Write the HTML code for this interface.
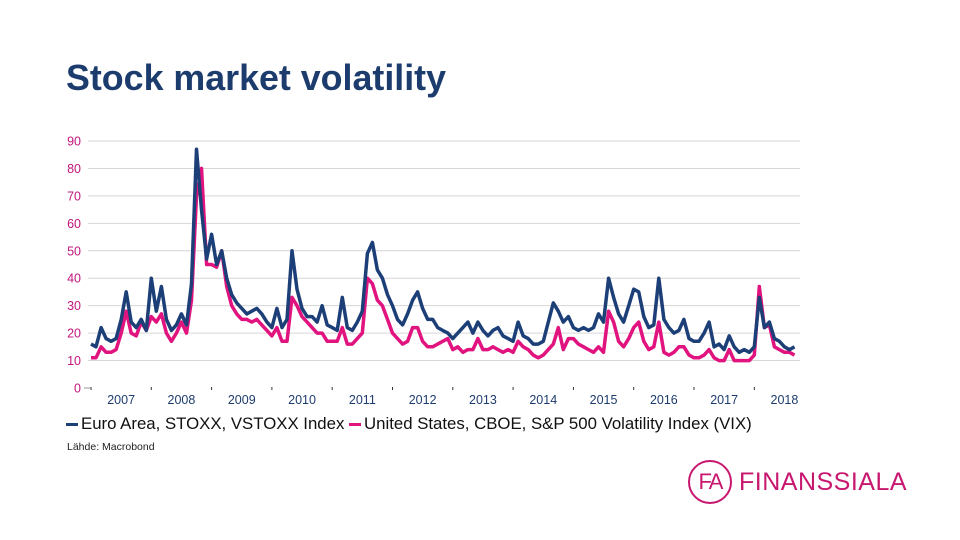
<!DOCTYPE html>
<html><head><meta charset="utf-8">
<style>
body{margin:0;width:960px;height:540px;background:#fff;overflow:hidden;font-family:"Liberation Sans",Arial,sans-serif;position:relative}
#title{position:absolute;left:66px;top:58px;font-size:35.8px;font-weight:bold;color:#1d3c6e;margin:0;white-space:nowrap}
svg{position:absolute;left:0;top:0}
</style></head><body>
<h1 id="title">Stock market volatility</h1>
<svg id="chart" width="960" height="540"></svg>
<script>
const startYear = 2007;
const yTicks = [0,10,20,30,40,50,60,70,80,90];
const yearLabels = ["2007","2008","2009","2010","2011","2012","2013","2014","2015","2016","2017","2018"];
const euroStoxx = [
16,15,22,18,17,18,25,35,24,22,25,21,
40,28,37,25,21,23,27,23,38,87,65,47,
56,45,50,40,34,31,29,27,28,29,27,24,
22,29,22,25,50,36,29,26,26,24,30,23,
22,21,33,22,21,24,28,49,53,43,40,34,
30,25,23,27,32,35,29,25,25,22,21,20,
18,20,22,24,20,24,21,19,21,22,19,18,
17,24,19,18,16,16,17,24,31,28,24,26,
22,21,22,21,22,27,24,40,33,27,24,30,
36,35,26,22,23,40,25,22,20,21,25,18,
17,17,20,24,15,16,14,19,15,13,14,13,
15,33,22,24,18,17,15,14,15];
const vix = [
11,11,15,13,13,14,20,28,20,19,24,21,
26,24,27,20,17,20,24,20,32,70,80,45,
45,44,50,37,30,27,25,25,24,25,23,21,
19,22,17,17,33,30,26,24,22,20,20,17,
17,17,22,16,16,18,20,40,38,32,30,25,
20,18,16,17,22,22,17,15,15,16,17,18,
14,15,13,14,14,18,14,14,15,14,13,14,
13,17,15,14,12,11,12,14,16,22,14,18,
18,16,15,14,13,15,13,28,24,17,15,18,
22,24,17,14,15,24,13,12,13,15,15,12,
11,11,12,14,11,10,10,14,10,10,10,10,
12,37,22,23,15,14,13,13,12];

const svg = document.getElementById('chart');
const NS = 'http://www.w3.org/2000/svg';
const x0 = 91, yearW = 60.3, yBase = 388, yTop = 141, xEnd = 800;
function xScale(d){ return x0 + (d - startYear) * yearW; }
function yScale(v){ return yBase - v * (yBase - yTop) / 90; }
function mk(tag, attrs){ const e = document.createElementNS(NS, tag); for (const k in attrs) e.setAttribute(k, attrs[k]); svg.appendChild(e); return e; }

yTicks.forEach(function(t){
  const y = yScale(t);
  if (t > 0) {
    const g = mk('line', {x1: 88, x2: xEnd, y1: y, y2: y, stroke: '#d6d6d6', 'stroke-width': 1});
    
    
  }
  const tx = mk('text', {x: 81, y: y + 4.5, 'text-anchor': 'end', 'font-size': 12.5, fill: '#c2167c'});
  tx.textContent = t;
  
  
  if (t === 0) {
    const d = mk('line', {x1: 84, x2: 90, y1: y, y2: y, stroke: '#999', 'stroke-width': 1});
    
    
  }
});
yearLabels.forEach(function(lbl, i){
  const xt = xScale(startYear + i);
  const tk = mk('line', {x1: xt, x2: xt, y1: yBase - 1, y2: yBase + 2, stroke: '#333', 'stroke-width': 1});
  
  
  const tx = mk('text', {x: xt + yearW / 2, y: 404, 'text-anchor': 'middle', 'font-size': 12.5, fill: '#1d3c6e'});
  tx.textContent = lbl;
  
  
});
function series(vals, color, name){
  const pts = vals.map(function(v, i){ return xScale(startYear + i / 12).toFixed(1) + ',' + yScale(v).toFixed(1); }).join(' ');
  const p = mk('polyline', {points: pts, fill: 'none', stroke: color, 'stroke-width': 3.5, 'stroke-linejoin': 'round'});
  
  
}
series(vix, '#e0137f', 'vix-line');
series(euroStoxx, '#1d3f78', 'vstoxx-line');
</script>
<div style="position:absolute;left:66px;top:414px;font-size:16.8px;color:#111;white-space:nowrap">
<span><span style="display:inline-block;width:12px;height:3px;background:#1d3f78;vertical-align:middle;margin-right:3px"></span>Euro Area, STOXX, VSTOXX Index</span>
<span><span style="display:inline-block;width:12px;height:3px;background:#e0137f;vertical-align:middle;margin-right:3px"></span>United States, CBOE, S&amp;P 500 Volatility Index (VIX)</span>
</div>
<div style="position:absolute;left:67px;top:441px;font-size:10.5px;color:#222">Lähde: Macrobond</div>
<div style="position:absolute;left:688px;top:460px;height:48px;">
<div style="position:absolute;left:0;top:0;width:44px;height:44px;border:2px solid #c8176f;border-radius:50%;box-sizing:border-box;color:#c8176f;font-size:22px;line-height:40px;text-align:center;letter-spacing:-2px">FA</div>
<div style="position:absolute;left:51px;top:8px;font-size:25px;color:#c8176f;white-space:nowrap;letter-spacing:0.5px">FINANSSIALA</div>
</div>
</body></html>
